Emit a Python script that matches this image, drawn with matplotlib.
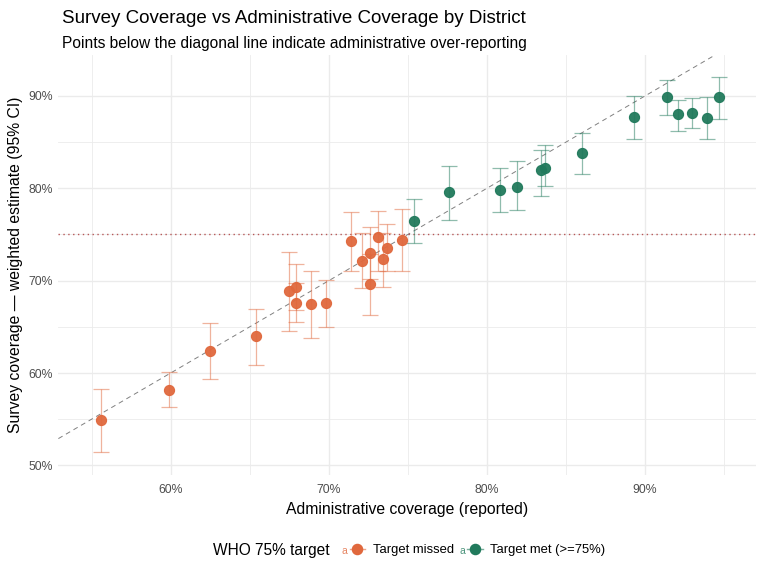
import matplotlib
matplotlib.use("Agg")
import matplotlib.pyplot as plt
from matplotlib.legend_handler import HandlerBase
from matplotlib.lines import Line2D
from matplotlib.text import Text
from matplotlib.ticker import MultipleLocator, FuncFormatter
import numpy as np

plt.rcParams['font.family'] = ['Liberation Sans', 'DejaVu Sans']

# administrative coverage (%), survey estimate (%), 95% CI
admin = [55.6, 59.9, 62.5, 65.4, 67.5, 67.9, 67.9, 68.9, 69.8,
         71.4, 72.1, 72.6, 72.6, 73.1, 73.4, 73.7, 74.6,
         75.4, 77.6, 80.8, 81.9, 83.4, 83.7, 86.0, 89.3,
         91.4, 92.1, 93.0, 93.9, 94.7]
survey = [54.9, 58.2, 62.4, 64.0, 68.9, 69.3, 67.6, 67.5, 67.6,
          74.3, 72.1, 73.0, 69.6, 74.7, 72.3, 73.5, 74.4,
          76.5, 79.6, 79.8, 80.1, 82.0, 82.2, 83.8, 87.7,
          89.9, 88.0, 88.2, 87.6, 89.9]
ci_low = [51.4, 56.3, 59.3, 60.9, 64.6, 66.8, 65.5, 63.8, 65.0,
          71.1, 69.2, 70.2, 66.3, 71.0, 69.3, 71.0, 71.1,
          74.1, 76.6, 77.4, 77.6, 79.2, 80.2, 81.5, 85.3,
          87.9, 86.2, 86.5, 85.3, 87.5]
ci_high = [58.3, 60.1, 65.4, 66.9, 73.1, 71.8, 69.8, 71.0, 70.1,
           77.4, 75.2, 75.8, 72.9, 77.5, 75.2, 76.1, 77.8,
           78.8, 82.4, 82.2, 83.0, 84.1, 84.7, 86.0, 90.0,
           91.7, 89.6, 89.8, 89.9, 92.1]

target = 75
colors = {'missed': '#E0683D', 'met': '#217A5C'}

admin = np.array(admin)
survey = np.array(survey)
lo = np.array(ci_low)
hi = np.array(ci_high)
met = survey >= target


class KeyHandler(HandlerBase):
    # ggplot-style key: small "a" followed by errorbar/point glyph
    def create_artists(self, legend, orig_handle, xdescent, ydescent,
                       width, height, fontsize, trans):
        c = orig_handle.get_color()
        y = -ydescent + height / 2
        x0 = -xdescent
        t = Text(x0, y - 2, 'a', color=c, fontsize=7.5, alpha=0.8,
                 ha='left', va='center', transform=trans)
        ln = Line2D([x0 + 6, x0 + width], [y, y], color=c, lw=1,
                    alpha=0.6, transform=trans)
        pt = Line2D([x0 + 6 + (width - 6) / 2], [y], marker='o',
                    markersize=7.3, color=c, markeredgecolor=c,
                    transform=trans)
        return [t, ln, pt]


fig = plt.figure(figsize=(7.68, 5.76), dpi=100)
ax = fig.add_axes([0.076, 0.176, 0.908, 0.728])

for key, mask in [('missed', ~met), ('met', met)]:
    c = colors[key]
    ax.errorbar(admin[mask], survey[mask],
                yerr=[survey[mask] - lo[mask], hi[mask] - survey[mask]],
                fmt='none', ecolor=c, alpha=0.5, elinewidth=0.9,
                capsize=6, capthick=0.9, zorder=2)
    ax.plot(admin[mask], survey[mask], 'o', color=c, markersize=7.3,
            markeredgecolor=c, markeredgewidth=0.8, alpha=0.95, zorder=3)

ax.set_xlim(52.9, 97.0)
ax.set_ylim(49.0, 94.4)
ax.axline((50, 50), (100, 100), color='#808080', lw=0.7,
          linestyle=(0, (5, 4)), zorder=1)
ax.axhline(target, color='#A83232', lw=1.0, linestyle=(0, (1, 2.5)),
           alpha=0.8, zorder=1)

ax.xaxis.set_major_locator(MultipleLocator(10))
ax.yaxis.set_major_locator(MultipleLocator(10))
ax.xaxis.set_minor_locator(MultipleLocator(5))
ax.yaxis.set_minor_locator(MultipleLocator(5))
pct = FuncFormatter(lambda v, p: f"{v:.0f}%")
ax.xaxis.set_major_formatter(pct)
ax.yaxis.set_major_formatter(pct)
ax.grid(which='major', color='#EBEBEB', lw=1.0, zorder=0)
ax.grid(which='minor', color='#EBEBEB', lw=0.6, zorder=0)
ax.set_axisbelow(True)
ax.tick_params(which='both', length=0, labelsize=8.8, labelcolor='#4D4D4D')
ax.tick_params(axis='x', pad=7)
ax.tick_params(axis='y', pad=4)
for s in ax.spines.values():
    s.set_visible(False)

ax.set_xlabel("Administrative coverage (reported)", fontsize=11.3, labelpad=4)
ax.set_ylabel("Survey coverage \u2014 weighted estimate (95% CI)", fontsize=11.3, labelpad=4)

fig.text(0.081, 0.968, "Survey Coverage vs Administrative Coverage by District",
         fontsize=13.5, va='center')
fig.text(0.081, 0.925, "Points below the diagonal line indicate administrative over-reporting",
         fontsize=11.2, va='center')

fig.text(0.277, 0.045, "WHO 75% target", fontsize=11.2, va='center')
handles = [Line2D([], [], color=colors['missed']),
           Line2D([], [], color=colors['met'])]
leg = fig.legend(handles, ["Target missed", "Target met (>=75%)"],
                 loc='center left', bbox_to_anchor=(0.436, 0.045), ncol=2,
                 frameon=False, fontsize=9.4, handlelength=1.8,
                 handletextpad=0.6, columnspacing=0.4, borderpad=0,
                 handler_map={Line2D: KeyHandler()})

fig.savefig("out.png", dpi=100)
